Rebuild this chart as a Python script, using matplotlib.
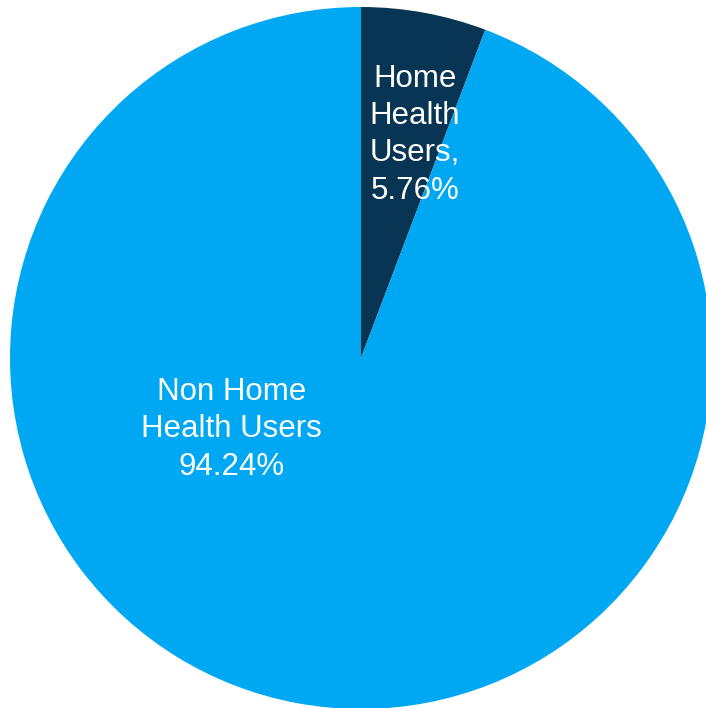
import matplotlib
matplotlib.use('Agg')
import matplotlib.pyplot as plt

labels = ['Home\nHealth\nUsers,\n5.76%', 'Non Home\nHealth Users\n94.24%']
shares = [5.76, 94.24]
colors = ['#083553', '#00A8F3']
# label spots in pie units (radius 1)
label_pos = [(0.154, 0.636), (-0.368, -0.203)]

plt.rcParams['font.family'] = ['Liberation Sans', 'DejaVu Sans']

fig = plt.figure(figsize=(7.06, 7.08), dpi=100)
ax = fig.add_axes([0, 0, 1, 1])

cx, cy, r = 361, 358, 351
ax.pie(shares, colors=colors, startangle=90, counterclock=False,
       radius=1, wedgeprops=dict(linewidth=0))
for lab, (x, y) in zip(labels, label_pos):
    ax.text(x, y, lab, ha='center', va='center', color='white',
            fontsize=22.5, linespacing=1.32)

ax.set_xlim(-cx / r, (706 - cx) / r)
ax.set_ylim(-(708 - cy) / r, cy / r)
ax.set_aspect('auto')
ax.axis('off')

plt.savefig('out.png', dpi=100)
